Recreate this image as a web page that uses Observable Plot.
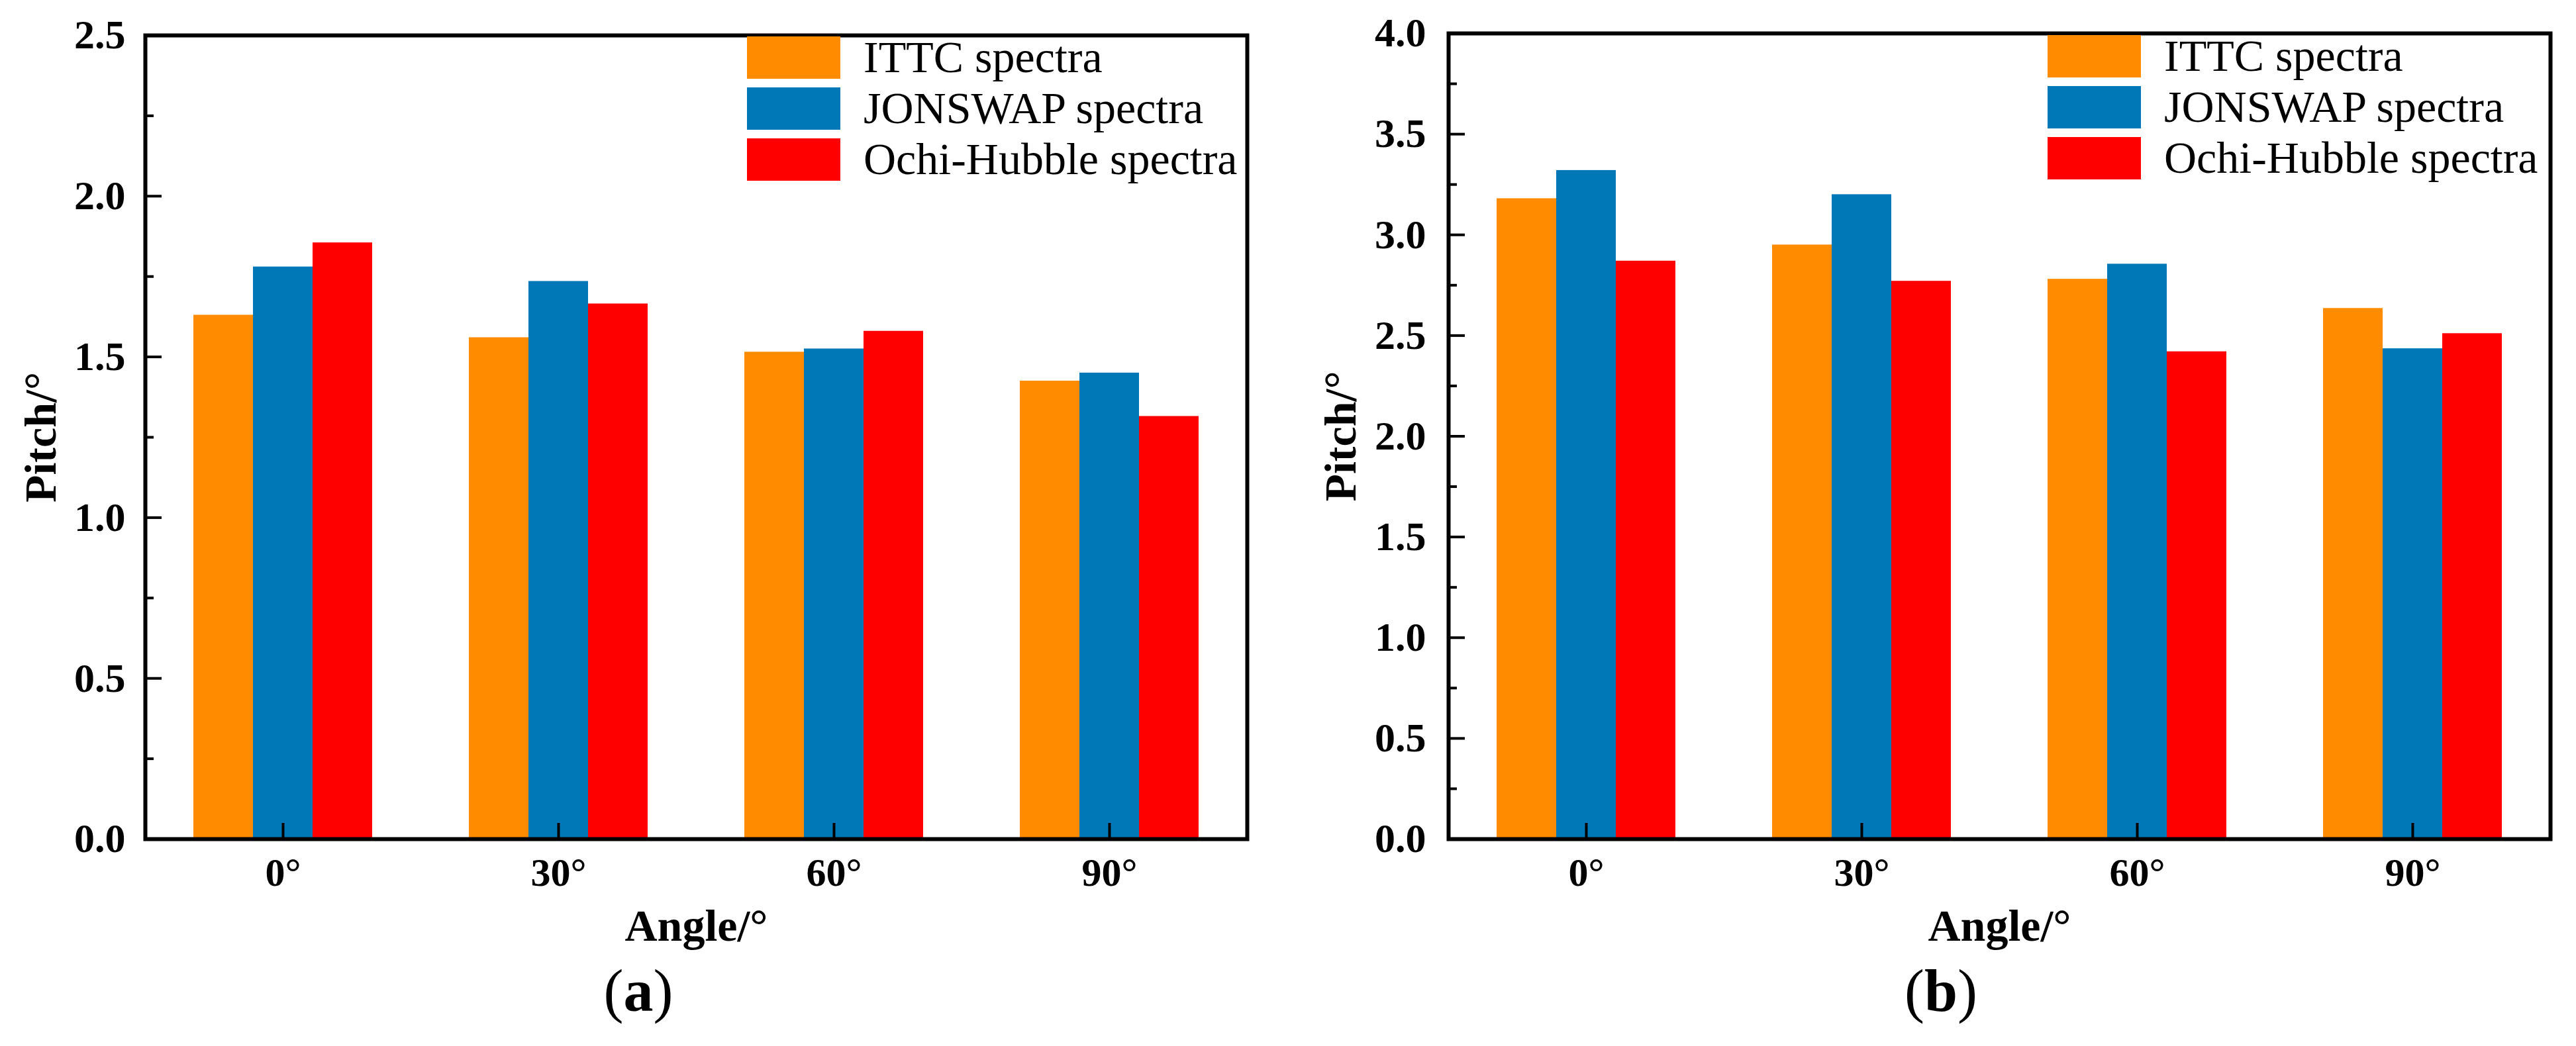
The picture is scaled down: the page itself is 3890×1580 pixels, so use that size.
<!DOCTYPE html>
<html>
<head>
<meta charset="utf-8">
<script src="https://cdn.jsdelivr.net/npm/d3@7"></script>
<script src="https://cdn.jsdelivr.net/npm/@observablehq/plot@0.6"></script>
<style>
  html, body { margin: 0; padding: 0; background: #fff; }
  #page { position: relative; width: 3890px; height: 1580px; background: #fff; color: #000;
          font-family: "Liberation Serif", "Times New Roman", serif; overflow: hidden; }
  .panel { position: absolute; top: 0; }
  .legend { position: absolute; font-size: 68px; line-height: 77px; }
  .legend .row { display: flex; align-items: center; height: 77px; white-space: nowrap; }
  .legend .sw { width: 141px; height: 64px; margin-right: 35px; flex-shrink: 0; }
  .caption { position: absolute; top: 1452px; font-size: 90px; line-height: 1; transform: translateX(-50%); white-space: nowrap; }
</style>
</head>
<body>
<div id="page">
  <div id="panelA" class="panel" style="left:0px"></div>
  <div id="panelB" class="panel" style="left:1950px"></div>
  <div id="legendA" class="legend" style="left:1128px; top:48px"></div>
  <div id="legendB" class="legend" style="left:3092px; top:46px"></div>
  <div class="caption" style="left:964px">(<b>a</b>)</div>
  <div class="caption" style="left:2931px">(<b>b</b>)</div>
</div>
<script>
// ---- data ----
const angles = ["0°", "30°", "60°", "90°"];
const seriesNames = ["ITTC spectra", "JONSWAP spectra", "Ochi-Hubble spectra"];
const seriesColors = ["#FF8C00", "#0078B8", "#FF0000"];

// panel (a)
const pitchA_ITTC    = [1.63, 1.56, 1.515, 1.425];
const pitchA_JONSWAP = [1.78, 1.735, 1.525, 1.45];
const pitchA_Ochi    = [1.855, 1.665, 1.58, 1.315];
const yTicksA = [0, 0.5, 1.0, 1.5, 2.0, 2.5];
const yMinorA = [0.25, 0.75, 1.25, 1.75, 2.25];

// panel (b)
const pitchB_ITTC    = [3.18, 2.95, 2.78, 2.635];
const pitchB_JONSWAP = [3.32, 3.20, 2.855, 2.435];
const pitchB_Ochi    = [2.87, 2.77, 2.42, 2.51];
const yTicksB = [0, 0.5, 1.0, 1.5, 2.0, 2.5, 3.0, 3.5, 4.0];
const yMinorB = [0.25, 0.75, 1.25, 1.75, 2.25, 2.75, 3.25, 3.75];

const FONT = "'Liberation Serif', 'Times New Roman', serif";

function toRows(seriesArrays) {
  return angles.flatMap((a, i) =>
    seriesNames.map((s, k) => ({angle: a, series: s, value: seriesArrays[k][i]})));
}

function panel({rows, yMax, yTicks, yMinor, width, marginLeft, marginRight, marginTop, yTickPadding, yLabelOffset}) {
  const height = 1440, marginBottom = 173;
  const txt = {fontFamily: FONT, fontWeight: "bold"};
  return Plot.plot({
    width, height, marginLeft, marginRight, marginTop, marginBottom,
    style: {fontFamily: FONT, background: "#fff", color: "#000", overflow: "visible"},
    fx: {domain: angles, padding: 0, axis: null},
    x: {domain: seriesNames, paddingInner: 0, paddingOuter: 0.81, axis: null},
    y: {domain: [0, yMax], axis: null},
    color: {domain: seriesNames, range: seriesColors},
    marks: [
      Plot.barY(rows, {fx: "angle", x: "series", y: "value", fill: "series"}),
      Plot.frame({facet: "super", stroke: "#000", strokeWidth: 6}),
      Plot.axisY({ticks: yTicks, anchor: "left", tickSize: 0, tickPadding: yTickPadding, tickFormat: d3.format(".1f"),
                  fontSize: 62, ...txt, label: null}),
      Plot.axisY({ticks: yTicks, anchor: "left", tickSize: -25, strokeWidth: 4, fill: "none", label: null}),
      Plot.axisY({ticks: yMinor, anchor: "left", tickSize: -13, strokeWidth: 4, fill: "none", label: null}),
      Plot.axisY({ticks: [], anchor: "left", tickSize: 0, label: "Pitch/°", labelAnchor: "center", labelOffset: yLabelOffset,
                  labelArrow: "none", fontSize: 68, ...txt}),
      Plot.axisFx({anchor: "bottom", tickSize: 0, tickPadding: 28, fontSize: 60, ...txt, label: null}),
      Plot.axisFx({anchor: "bottom", tickSize: -24, strokeWidth: 4, fill: "none", label: null}),
      Plot.axisFx({ticks: [], anchor: "bottom", tickSize: 0, label: "Angle/°", labelAnchor: "center", labelOffset: 153,
                   labelArrow: "none", fontSize: 68, ...txt})
    ]
  });
}

document.getElementById("panelA").append(panel({
  rows: toRows([pitchA_ITTC, pitchA_JONSWAP, pitchA_Ochi]),
  yMax: 2.5, yTicks: yTicksA, yMinor: yMinorA,
  width: 1950, marginLeft: 219, marginRight: 67, marginTop: 53,
  yTickPadding: 30, yLabelOffset: 184
}));
document.getElementById("panelB").append(panel({
  rows: toRows([pitchB_ITTC, pitchB_JONSWAP, pitchB_Ochi]),
  yMax: 4.0, yTicks: yTicksB, yMinor: yMinorB,
  width: 1940, marginLeft: 237, marginRight: 39, marginTop: 50,
  yTickPadding: 34, yLabelOffset: 189
}));

function legend(el) {
  seriesNames.forEach((s, k) => {
    const row = document.createElement("div");
    row.className = "row";
    const sw = document.createElement("div");
    sw.className = "sw";
    sw.style.background = seriesColors[k];
    const t = document.createElement("span");
    t.textContent = s;
    row.append(sw, t);
    el.append(row);
  });
}
legend(document.getElementById("legendA"));
legend(document.getElementById("legendB"));
</script>
</body>
</html>
